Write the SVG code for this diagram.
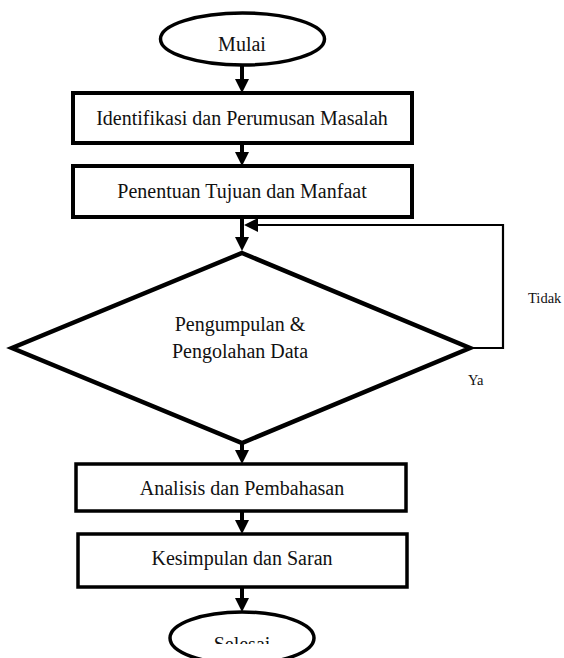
<svg xmlns="http://www.w3.org/2000/svg" width="564" height="658" viewBox="0 0 564 658">
<style>
  .box { fill: #fff; stroke: #000; stroke-width: 4; }
  .oval { fill: #fff; stroke: #000; stroke-width: 3.5; }
  .t { font-family: "Liberation Serif", "Times New Roman", serif; font-size: 20px; fill: #111; text-anchor: middle; }
  .s { font-family: "Liberation Serif", "Times New Roman", serif; font-size: 14.5px; fill: #111; }
  .flow { stroke: #000; stroke-width: 4; fill: none; }
  .loop { stroke: #000; stroke-width: 2.2; fill: none; }
</style>
<defs>
  <marker id="ah" markerUnits="userSpaceOnUse" markerWidth="14" markerHeight="14" viewBox="0 0 14 14" refX="4" refY="7" orient="auto">
    <path d="M0,0 L14,7 L0,14 Z" fill="#000"/>
  </marker>
  <clipPath id="clipEnd"><rect x="0" y="0" width="564" height="644"/></clipPath>
</defs>
<rect width="564" height="658" fill="#fff"/>

<g id="connectors">
  <line class="flow" x1="242" y1="65" x2="242" y2="83" marker-end="url(#ah)"/>
  <line class="flow" x1="242" y1="143" x2="242" y2="156" marker-end="url(#ah)"/>
  <line class="flow" x1="242" y1="217" x2="242" y2="241" marker-end="url(#ah)"/>
  <polyline class="loop" points="470,348 503,348 503,225 254,225" marker-end="url(#ah)"/>
  <line class="flow" x1="242" y1="443" x2="242" y2="454" marker-end="url(#ah)"/>
  <line class="flow" x1="242" y1="511" x2="242" y2="524" marker-end="url(#ah)"/>
  <line class="flow" x1="242" y1="587" x2="242" y2="602" marker-end="url(#ah)"/>
</g>

<g id="mulai">
  <ellipse class="oval" cx="242.5" cy="39" rx="82" ry="26"/>
  <text class="t" x="242" y="51">Mulai</text>
</g>

<g id="identifikasi">
  <rect class="box" x="73" y="93" width="339" height="50"/>
  <text class="t" x="242" y="124.5">Identifikasi dan Perumusan Masalah</text>
</g>

<g id="penentuan">
  <rect class="box" x="73" y="166" width="339" height="51"/>
  <text class="t" x="242" y="197.5">Penentuan Tujuan dan Manfaat</text>
</g>

<g id="pengumpulan">
  <polygon points="242,253 470,348 242,443 12,348" fill="#fff" stroke="#000" stroke-width="4.5" stroke-linejoin="miter"/>
  <text class="t" x="240" y="331">Pengumpulan &amp;</text>
  <text class="t" x="240" y="358">Pengolahan Data</text>
</g>

<g id="labels">
  <text class="s" x="528" y="303">Tidak</text>
  <text class="s" x="468" y="385">Ya</text>
</g>

<g id="analisis">
  <rect class="box" x="76" y="464" width="330" height="47" style="stroke-width:3.5"/>
  <text class="t" x="242" y="495">Analisis dan Pembahasan</text>
</g>

<g id="kesimpulan">
  <rect class="box" x="78" y="534" width="329" height="53" style="stroke-width:3.5"/>
  <text class="t" x="242" y="565">Kesimpulan dan Saran</text>
</g>

<g id="selesai">
  <ellipse class="oval" cx="242" cy="638" rx="72" ry="26"/>
  <text class="t" x="242" y="651" clip-path="url(#clipEnd)">Selesai</text>
</g>
</svg>
